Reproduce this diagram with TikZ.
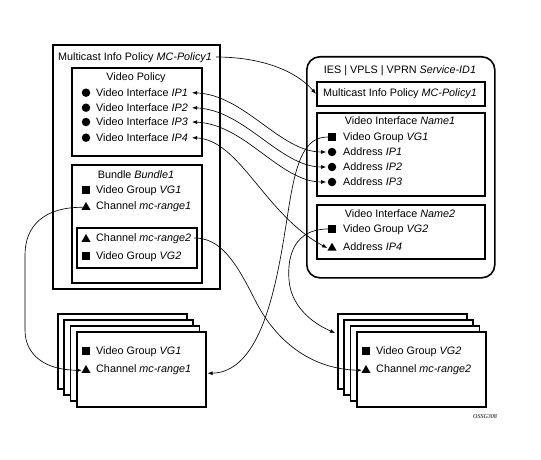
\documentclass[tikz,border=0pt]{standalone}
\usepackage{fontspec}
\setmainfont{Liberation Sans}
\newfontfamily\smallserif{Liberation Serif}
\usetikzlibrary{arrows.meta,shapes.geometric}
\begin{document}
\begin{tikzpicture}[x=1pt,y=-1pt,
  every node/.style={font=\fontsize{10.8}{12}\selectfont},
  bx/.style 2 args={draw,line width=1.6pt,anchor=north west,minimum width=#1pt,minimum height=#2pt,inner sep=0pt},
  stk/.style 2 args={bx={#1}{#2},fill=white},
  lbl/.style={anchor=west,inner sep=0pt,text height=7.6pt,text depth=0pt},
  ttl/.style={inner sep=0pt,text height=7.6pt,text depth=0pt},
  dotm/.style={circle,fill,inner sep=0pt,minimum size=8.5pt},
  sqm/.style={rectangle,fill,inner sep=0pt,minimum size=7.8pt},
  trim/.style={regular polygon,regular polygon sides=3,fill,inner sep=0pt,minimum size=10.5pt},
  conn/.style={line width=0.65pt,-{Latex[length=5pt,width=4pt]}},
  dconn/.style={line width=0.65pt,{Latex[length=5pt,width=4pt]}-{Latex[length=5pt,width=4pt]}}
]
\useasboundingbox (0,0) rectangle (541,460);

% ---------- left policy box ----------
\node[bx={167}{244}] (outer) at (52,44) {};
\node[bx={130}{88}] (vpbox) at (71,67) {};
\node[bx={130}{118}] (bundle) at (71,164) {};
\node[bx={120}{40}] (inbund) at (76,227) {};

\node[ttl] (mcl) at (135,57) {Multicast Info Policy \textit{MC-Policy1}};
\node[ttl] (vpt) at (136,77) {Video Policy};
\node[dotm] (vd1) at (86,92.7) {};
\node[lbl] (vi1) at (96,92.7) {Video Interface \textit{IP1}};
\node[dotm] (vd2) at (86,107.7) {};
\node[lbl] (vi2) at (96,107.7) {Video Interface \textit{IP2}};
\node[dotm] (vd3) at (86,122) {};
\node[lbl] (vi3) at (96,122) {Video Interface \textit{IP3}};
\node[dotm] (vd4) at (86,137.7) {};
\node[lbl] (vi4) at (96,137.7) {Video Interface \textit{IP4}};

\node[ttl] (bt) at (136,175) {Bundle \textit{Bundle1}};
\node[sqm] (bsq1) at (86,190) {};
\node[lbl] (bvg1) at (96,190) {Video Group \textit{VG1}};
\node[trim] (btr1) at (86,207.3) {};
\node[lbl] (bch1) at (96,206) {Channel \textit{mc-range1}};
\node[trim] (btr2) at (86,239.3) {};
\node[lbl] (bch2) at (96,238) {Channel \textit{mc-range2}};
\node[sqm] (bsq2) at (86,256) {};
\node[lbl] (bvg2) at (96,256) {Video Group \textit{VG2}};

% ---------- right service box ----------
\node[bx={188}{221},rounded corners=13pt] (svcbox) at (306,56) {};
\node[bx={168}{24}] (rmc) at (316,81) {};
\node[bx={168}{83}] (n1box) at (316,112) {};
\node[bx={168}{54}] (n2box) at (316,204) {};

\node[ttl] (svc) at (400,70) {IES | VPLS | VPRN \textit{Service-ID1}};
\node[ttl] (rmct) at (400,93) {Multicast Info Policy \textit{MC-Policy1}};
\node[ttl] (n1t) at (400,121) {Video Interface \textit{Name1}};
\node[sqm] (rsq1) at (332,137) {};
\node[lbl] (rvg1) at (343,137) {Video Group \textit{VG1}};
\node[dotm] (rd1) at (332,152) {};
\node[lbl] (ra1) at (343,152) {Address \textit{IP1}};
\node[dotm] (rd2) at (332,167) {};
\node[lbl] (ra2) at (343,167) {Address \textit{IP2}};
\node[dotm] (rd3) at (332,182) {};
\node[lbl] (ra3) at (343,182) {Address \textit{IP3}};
\node[ttl] (n2t) at (400,214) {Video Interface \textit{Name2}};
\node[sqm] (rsq2) at (332,229) {};
\node[lbl] (rvg2) at (343,229) {Video Group \textit{VG2}};
\node[trim] (rt4) at (332,248) {};
\node[lbl] (ra4) at (343,247) {Address \textit{IP4}};

% ---------- bottom-left stack ----------
\node[stk={129}{75}] (lb1) at (57,313) {};
\node[stk={129}{75}] (lb2) at (63.3,319) {};
\node[stk={129}{75}] (lb3) at (69.6,325) {};
\node[stk={129}{75}] (lb4) at (76,331) {};
\node[sqm] (lsq) at (86,351) {};
\node[lbl] (lvg) at (96,351) {Video Group \textit{VG1}};
\node[trim] (ltr) at (86,370.3) {};
\node[lbl] (lch) at (96,369) {Channel \textit{mc-range1}};

% ---------- bottom-right stack ----------
\node[stk={129}{75}] (rb1) at (337,313) {};
\node[stk={129}{75}] (rb2) at (343.3,319) {};
\node[stk={129}{75}] (rb3) at (349.6,325) {};
\node[stk={129}{75}] (rb4) at (356,331) {};
\node[sqm] (rsq) at (366,351) {};
\node[lbl] (rvg) at (376,351) {Video Group \textit{VG2}};
\node[trim] (rtr) at (366,370.3) {};
\node[lbl] (rch) at (376,369) {Channel \textit{mc-range2}};

\node[font=\smallserif\itshape\fontsize{6}{7}\selectfont] (fig) at (485,417) {OSSG308};

% ---------- connectors ----------
\draw[conn] ([xshift=4pt]mcl.east) .. controls (260,57) and (295,70) .. (rmc.west);
\draw[dconn] ([xshift=4pt]vi1.east) .. controls (245,95) and (280,152) .. ([xshift=-1.5pt]rd1.west);
\draw[dconn] ([xshift=4pt]vi2.east) .. controls (245,110) and (280,167) .. ([xshift=-1.5pt]rd2.west);
\draw[dconn] ([xshift=4pt]vi3.east) .. controls (245,124) and (280,182) .. ([xshift=-1.5pt]rd3.west);
\draw[dconn] ([xshift=4pt]vi4.east) .. controls (240,140) and (265,215) .. ([xshift=-1.5pt]rt4.west);
\draw[conn] (rsq1.west) .. controls (305,137) and (297,160) .. (290,200)
   .. controls (280,260) and (268,372) .. ([yshift=-4pt,xshift=1pt]lb4.east);
\draw[conn] (btr1.west) .. controls (45,207) and (25,225) .. (25,255) -- (25,330)
   .. controls (25,355) and (45,370) .. ([xshift=-1pt]ltr.west);
\draw[conn] ([xshift=3pt]bch2.east) .. controls (220,238) and (235,260) .. (255,300)
   .. controls (275,340) and (310,369) .. ([xshift=-1pt]rtr.west);
\draw[conn] (rsq2.west) .. controls (295,229) and (287,255) .. (289,280)
   .. controls (291,305) and (310,322) .. ([yshift=-20pt,xshift=-2pt]rb1.north west);
\end{tikzpicture}
\end{document}
